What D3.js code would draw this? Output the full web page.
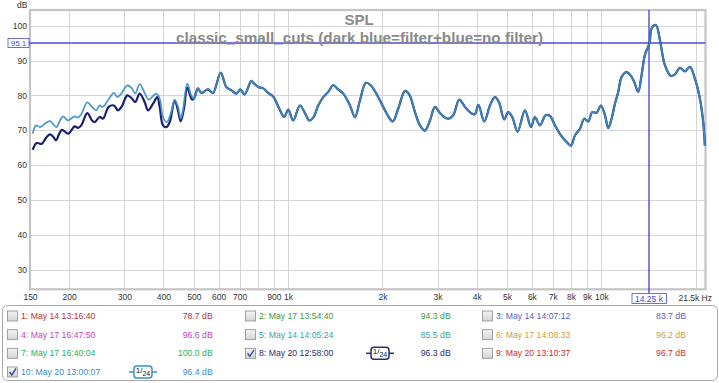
<!DOCTYPE html>
<html>
<head>
<meta charset="utf-8">
<script src="https://cdn.jsdelivr.net/npm/d3@7"></script>
<style>
body { margin: 0; background: #fff; }
svg text { font-family: "Liberation Sans", Arial, sans-serif; }
</style>
</head>
<body>
<svg id="chart" width="719" height="383"></svg>
<script>
// ---- data ----
// low end, where the two traces differ
var noFilterLowFreq = [153, 156.8, 161.4, 166.9, 173.7, 177.6, 182.2, 187, 191.2, 198.3, 208.3, 213.4, 218.7, 228.5, 236.6, 244.2, 250.3, 256.5, 266.1, 278.1, 284.9, 293.4, 306.6, 317.4, 325.2, 335.9, 348.4, 358.8, 379.5, 389.1, 398.6, 409.6, 423.7, 434.4, 445.1, 454, 461.8, 476.6, 490.8];
var noFilterLowDb   = [69.0, 71.4, 70.9, 71.8, 72.6, 71.8, 70.9, 72.8, 74.0, 72.8, 74.0, 73.6, 74.6, 78.0, 76.7, 75.7, 77.1, 76.7, 78.6, 80.7, 79.5, 80.5, 82.9, 82.0, 80.5, 83.2, 80.7, 78.8, 80.5, 79.1, 73.8, 72.3, 75.2, 78.6, 76.7, 73.3, 75.7, 83.4, 80.0];

var filterLowFreq = [153, 157.6, 163.5, 168.7, 173.7, 177.6, 181.6, 185.6, 189.4, 192.6, 198.8, 208.3, 213.4, 218.7, 228.5, 236.6, 241.3, 250.3, 256.5, 267.5, 278.1, 286.4, 294.9, 306.6, 317.4, 325.2, 335.9, 348.4, 357, 370.5, 382.3, 389.1, 398.6, 408.4, 418.8, 434.4, 445.1, 454, 465.2, 476.6, 493.4];
var filterLowDb   = [64.4, 66.3, 66.1, 67.8, 68.8, 68.2, 67.1, 68.8, 70.1, 69.8, 69.0, 71.1, 70.7, 71.4, 74.9, 72.8, 72.3, 73.8, 73.3, 76.7, 77.1, 75.7, 76.9, 80.0, 79.1, 78.1, 80.5, 78.1, 75.7, 77.6, 79.5, 76.7, 71.4, 70.9, 72.3, 78.6, 75.7, 72.6, 76.2, 82.2, 78.8];

// from ~500 Hz up both traces lie on top of each other
var sharedFreq = [500.7, 515.6, 528.3, 554.9, 575.7, 609.2, 634.8, 658.6, 683.2, 703.6, 726.7, 762.8, 774.1, 803, 833, 864.2, 896.5, 936.9, 971.9, 1001, 1038, 1091, 1132, 1168, 1203, 1248, 1295, 1343, 1393, 1445, 1500, 1576, 1635, 1696, 1772, 1835, 1907, 1989, 2064, 2157, 2247, 2361, 2436, 2541, 2636, 2734, 2837, 2943, 3037, 3128, 3245, 3366, 3518, 3669, 3854, 3948, 4051, 4228, 4409, 4574, 4710, 4897, 5043, 5194, 5404, 5702, 5959, 6137, 6366, 6639, 6852, 7109, 7429, 7747, 7996, 8234, 8542, 8817, 9080, 9351, 9658, 9968, 10270, 10520, 10780, 11050, 11320, 11610, 12040, 12430, 12730, 13110, 13440, 13770, 14250, 14470, 14930, 15380, 15950, 16670, 17170, 17810, 18480, 19170, 19890, 20630, 21140, 21400];
var sharedDb   = [79.1, 82.0, 80.7, 81.7, 80.7, 86.5, 82.4, 81.5, 80.5, 81.7, 80.3, 84.2, 83.6, 82.4, 82.0, 80.7, 79.7, 76.2, 73.8, 75.9, 72.8, 77.1, 74.9, 72.8, 73.6, 77.1, 79.5, 81.0, 82.9, 81.7, 80.5, 77.1, 73.8, 78.6, 83.6, 82.9, 80.7, 77.6, 74.8, 72.5, 76.2, 81.3, 80.3, 75.2, 71.4, 69.9, 72.8, 76.7, 75.2, 74.0, 73.3, 74.3, 78.8, 76.7, 74.8, 74.6, 77.3, 72.5, 77.1, 79.5, 78.1, 73.1, 75.2, 73.8, 69.6, 75.7, 70.9, 73.8, 71.4, 74.3, 74.1, 71.4, 68.5, 66.6, 65.6, 68.5, 70.4, 73.3, 72.5, 75.2, 75.0, 77.1, 74.3, 70.6, 73.3, 77.6, 81.0, 85.3, 86.7, 85.6, 83.9, 81.0, 85.8, 91.6, 95.1, 99.2, 100.2, 95.9, 88.7, 85.6, 86.0, 87.9, 86.9, 88.2, 84.8, 79.1, 72.3, 65.6];

var yTicks = [30, 40, 50, 60, 70, 80, 90, 100];
var xGridFreq = [200, 300, 400, 500, 600, 700, 800, 900, 1000, 2000, 3000, 4000, 5000, 6000, 7000, 8000, 9000, 10000, 20000];
var xLabelFreq = [150, 200, 300, 400, 500, 600, 700, 900, 1000, 2000, 3000, 4000, 5000, 6000, 7000, 8000, 9000, 10000];
var xLabelText = ['150', '200', '300', '400', '500', '600', '700', '900', '1k', '2k', '3k', '4k', '5k', '6k', '7k', '8k', '9k', '10k'];

var cursorFreq = 14250;
var cursorDb = 95.1;

var legendNames  = ['1: May 14 13:16:40', '2: May 17 13:54:40', '3: May 14 14:07:12',
                    '4: May 17 16:47:50', '5: May 14 14:05:24', '6: May 17 14:08:33',
                    '7: May 17 16:40:04', '8: May 20 12:58:00', '9: May 20 13:10:37',
                    '10: May 20 13:00:07'];
var legendValues = ['78.7 dB', '94.3 dB', '83.7 dB', '96.6 dB', '85.5 dB', '96.2 dB',
                    '100.0 dB', '96.3 dB', '96.7 dB', '96.4 dB'];
var legendColors = ['#b83434', '#3f9b3f', '#5d5dc2', '#bf3fbf', '#3c9fa3', '#c6a13a',
                    '#2bb257', '#2b2b72', '#cf2b2b', '#3b8ec2'];
var legendChecked = [false, false, false, false, false, false, false, true, false, true];

var COLOR_FILTER = '#1c2070';
var COLOR_NOFILTER = '#3f90c2';
var CURSOR = '#4a4ae0';

// ---- layout ----
var svg = d3.select('#chart');
var PLOT = {left: 30, right: 705.5, top: 10, bottom: 289.3};

var x = d3.scaleLog().domain([150, 21500]).range([PLOT.left, PLOT.right]);
var y = d3.scaleLinear().domain([24.35, 104.5]).range([PLOT.bottom, PLOT.top]);

// horizontal grid + dB labels
var yAxis = svg.append('g')
	.attr('transform', 'translate(' + PLOT.left + ',0)')
	.call(d3.axisLeft(y).tickValues(yTicks).tickSize(-(PLOT.right - PLOT.left)).tickPadding(3));
yAxis.select('.domain').remove();
yAxis.selectAll('line').attr('stroke', '#d6d6d6').attr('shape-rendering', 'crispEdges');
yAxis.selectAll('text').attr('font-size', '8.5px').attr('fill', '#333').attr('font-family', null);

// vertical grid
var xGrid = svg.append('g')
	.attr('transform', 'translate(0,' + PLOT.bottom + ')')
	.call(d3.axisBottom(x).tickValues(xGridFreq).tickSize(-(PLOT.bottom - PLOT.top)).tickFormat(''));
xGrid.select('.domain').remove();
xGrid.selectAll('line').attr('stroke', '#d6d6d6').attr('shape-rendering', 'crispEdges');

// frequency labels
var xAxis = svg.append('g')
	.attr('transform', 'translate(0,' + PLOT.bottom + ')')
	.call(d3.axisBottom(x).tickValues(xLabelFreq).tickSize(0).tickPadding(5)
		.tickFormat(function(d, i) { return xLabelText[i]; }));
xAxis.select('.domain').remove();
xAxis.selectAll('text').attr('font-size', '8.5px').attr('fill', '#333').attr('font-family', null);

svg.append('text').attr('x', 712).attr('y', 300.5).attr('text-anchor', 'end')
	.attr('font-size', '8.5px').attr('fill', '#333').text('21.5k Hz');
svg.append('text').attr('x', 17).attr('y', 8).attr('font-size', '8.5px').attr('fill', '#333').text('dB');

// plot frame
svg.append('rect')
	.attr('x', PLOT.left).attr('y', PLOT.top)
	.attr('width', PLOT.right - PLOT.left).attr('height', PLOT.bottom - PLOT.top)
	.attr('fill', 'none').attr('stroke', '#c4c4c4').attr('stroke-width', 2.2);

// cursor lines (on whole pixels, a bit wide, so they come out soft blue like the original)
var cy0 = Math.round(y(cursorDb)), cx0 = Math.round(x(cursorFreq)) - 1;
svg.append('line')
	.attr('x1', 29).attr('x2', PLOT.right).attr('y1', cy0).attr('y2', cy0)
	.attr('stroke', CURSOR).attr('stroke-width', 1.4);
svg.append('line')
	.attr('x1', cx0).attr('x2', cx0).attr('y1', PLOT.top).attr('y2', 293.5)
	.attr('stroke', CURSOR).attr('stroke-width', 1.4);

// title
svg.append('text').attr('x', 359).attr('y', 25).attr('text-anchor', 'middle')
	.attr('font-size', '15px').attr('font-weight', 'bold').attr('fill', '#8a8a8a').text('SPL');
svg.append('text').attr('x', 359.5).attr('y', 42.5).attr('text-anchor', 'middle')
	.attr('font-size', '14px').attr('font-weight', 'bold').attr('fill', '#8a8a8a')
	.attr('textLength', 367).attr('lengthAdjust', 'spacingAndGlyphs')
	.text('classic_small_cuts (dark blue=filter+blue=no filter)');

// traces
function pts(fs, ds) { return fs.map(function(f, i) { return [f, ds[i]]; }); }
var filterData = pts(filterLowFreq, filterLowDb).concat(pts(sharedFreq, sharedDb));
var noFilterData = pts(noFilterLowFreq, noFilterLowDb).concat(pts(sharedFreq, sharedDb));

var line = d3.line()
	.x(function(d) { return x(d[0]); })
	.y(function(d) { return y(d[1]); })
	.curve(d3.curveCatmullRom.alpha(0.5));

svg.append('path').datum(filterData).attr('d', line)
	.attr('fill', 'none').attr('stroke', COLOR_FILTER).attr('stroke-width', 2.2);
svg.append('path').datum(noFilterData).attr('d', line)
	.attr('fill', 'none').attr('stroke', COLOR_NOFILTER).attr('stroke-width', 1.8).attr('stroke-opacity', 0.9);

// cursor readouts
svg.append('rect').attr('x', 8).attr('y', 38.5).attr('width', 21).attr('height', 9)
	.attr('fill', '#fff').attr('stroke', CURSOR).attr('stroke-width', 0.8);
svg.append('text').attr('x', 18.5).attr('y', 46).attr('text-anchor', 'middle')
	.attr('font-size', '8px').attr('fill', CURSOR).text(cursorDb.toFixed(1));
svg.append('rect').attr('x', cx0 - 17).attr('y', 293.5).attr('width', 34.5).attr('height', 10)
	.attr('fill', '#fff').attr('stroke', CURSOR).attr('stroke-width', 0.8);
svg.append('text').attr('x', cx0).attr('y', 301.5).attr('text-anchor', 'middle')
	.attr('font-size', '8.5px').attr('fill', CURSOR).text('14.25 k');

// ---- legend ----
svg.append('rect').attr('x', 2.5).attr('y', 305.5).attr('width', 715).attr('height', 75)
	.attr('rx', 5).attr('fill', '#fff').attr('stroke', '#a8a8a8');

var colBox = [7, 245, 482];
var colValue = [212.7, 450.7, 686];
var rowY = [316, 334.7, 353.3, 372];

var defs = svg.append('defs');
var grad = defs.append('linearGradient').attr('id', 'cb').attr('x1', 0).attr('y1', 0).attr('x2', 0).attr('y2', 1);
grad.append('stop').attr('offset', '0%').attr('stop-color', '#f4f4f4');
grad.append('stop').attr('offset', '100%').attr('stop-color', '#d4d4d4');

legendNames.forEach(function(name, i) {
	var col = i % 3, row = Math.floor(i / 3);
	var bx = colBox[col], cy = rowY[row];
	var g = svg.append('g');
	g.append('rect').attr('x', bx + 0.5).attr('y', cy - 5).attr('width', 10).attr('height', 10)
		.attr('fill', 'url(#cb)').attr('stroke', '#8c8c8c').attr('stroke-width', 0.8);
	if(legendChecked[i])
	{
		g.append('path').attr('d', 'M' + (bx + 2.5) + ',' + cy + ' l2.3,3 l4.2,-6.5')
			.attr('fill', 'none').attr('stroke', '#3a4f9a').attr('stroke-width', 1.4);
	}
	g.append('text').attr('x', bx + 14).attr('y', cy + 3).attr('font-size', '8.7px')
		.attr('fill', legendColors[i]).text(name);
	g.append('text').attr('x', colValue[col]).attr('y', cy + 3).attr('text-anchor', 'end')
		.attr('font-size', '8.7px').attr('fill', legendColors[i]).text(legendValues[i]);

	if(legendChecked[i])
	{
		// smoothing badge
		var ix = (col == 0) ? 129 : 366;
		g.append('line').attr('x1', ix).attr('x2', ix + 28).attr('y1', cy).attr('y2', cy)
			.attr('stroke', legendColors[i]).attr('stroke-width', 1.5);
		g.append('rect').attr('x', ix + 5).attr('y', cy - 6).attr('width', 18).attr('height', 12)
			.attr('rx', 3).attr('fill', '#fff').attr('stroke', legendColors[i]).attr('stroke-width', 1.5);
		var t = g.append('text').attr('x', ix + 14).attr('y', cy + 3).attr('text-anchor', 'middle')
			.attr('font-size', '8px').attr('fill', '#222');
		t.append('tspan').attr('dy', -2).text('1');
		t.append('tspan').attr('dy', 0).text('/');
		t.append('tspan').attr('dy', 3).attr('font-size', '7px').text('24');
	}
});
</script>
</body>
</html>
